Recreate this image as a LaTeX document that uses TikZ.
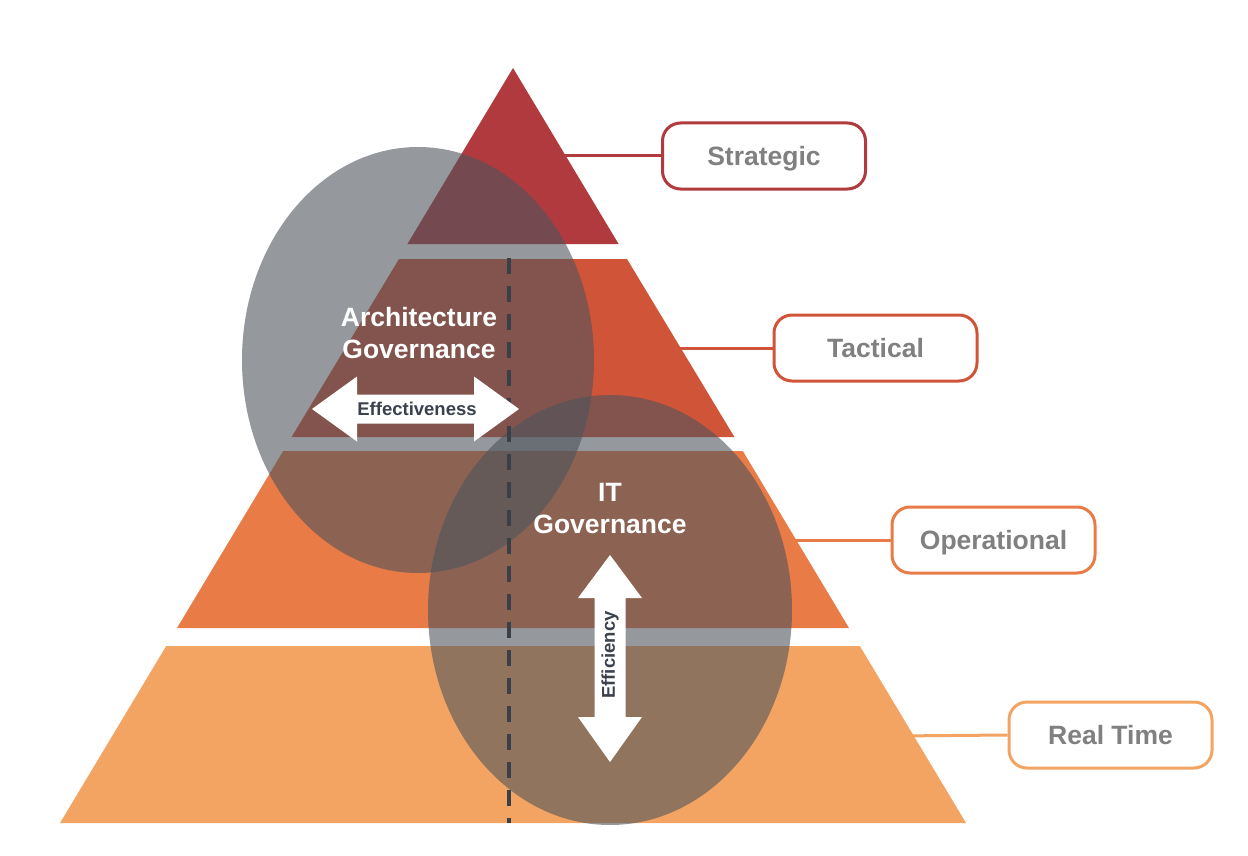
\documentclass[tikz,border=0pt]{standalone}
\usepackage{fontspec}
\setmainfont{Liberation Sans}
\definecolor{cStrat}{RGB}{176,58,62}
\definecolor{cTact}{RGB}{208,84,56}
\definecolor{cOper}{RGB}{233,123,71}
\definecolor{cReal}{RGB}{243,164,98}
\definecolor{cEll}{RGB}{78,84,92}
\definecolor{cLabel}{RGB}{128,128,128}
\definecolor{cDark}{RGB}{58,66,78}
\definecolor{cDash}{RGB}{58,64,72}
\tikzset{
  lbox/.style={draw=#1, line width=3pt, rounded corners=18pt, fill=white,
    minimum width=203pt, minimum height=66pt, text=cLabel,
    text height=19pt, text depth=0pt,
    font=\bfseries\fontsize{26.5}{30}\selectfont},
  lline/.style={draw=#1, line width=3pt},
  govell/.style={fill=cEll, fill opacity=0.6},
  govtext/.style={text=white, font=\bfseries\fontsize{26.5}{32}\selectfont, align=center},
  arrfill/.style={fill=white, draw=none},
  arrtext/.style={text=cDark, font=\bfseries\fontsize{18.5}{20}\selectfont}
}
\begin{document}
\begin{tikzpicture}[x=1pt,y=-1pt]
\useasboundingbox (0,0) rectangle (1248,856);
% connector lines (behind pyramid)
\coordinate (s0) at (540,156);
\coordinate (t0) at (660,348);
\coordinate (o0) at (780,540);
\coordinate (r0) at (895,736);
\node[lbox=cStrat] (strat) at (764,156) {Strategic};
\node[lbox=cTact] (tact) at (875.5,348) {Tactical};
\node[lbox=cOper] (oper) at (993.5,540) {Operational};
\node[lbox=cReal] (real) at (1110.5,735) {Real Time};
\draw[lline=cStrat] (s0) -- (strat.west);
\draw[lline=cTact] (t0) -- (tact.west);
\draw[lline=cOper] (o0) -- (oper.west);
\draw[lline=cReal] (r0) -- (real.west);
% pyramid layers
\fill[cStrat] (513,68) -- (618.6,244) -- (407.4,244) -- cycle;
\fill[cTact] (399,259) -- (627,259) -- (734.4,437) -- (291.6,437) -- cycle;
\fill[cOper] (283.2,451) -- (742.8,451) -- (849,628) -- (177,628) -- cycle;
\fill[cReal] (166.2,646) -- (859.8,646) -- (966,823) -- (60,823) -- cycle;
% ellipses
\fill[govell] (418,360) ellipse [x radius=176, y radius=213];
\fill[govell] (610,610) ellipse [x radius=182, y radius=215];
% dashed line
\draw[cDash, line width=4pt, dash pattern=on 16pt off 12pt] (509,258) -- (509,823);
% texts
\node[govtext] (archg) at (419,333) {Architecture\\Governance};
\node[govtext] (itg) at (610,509) {IT\\Governance};
% horizontal double arrow
\fill[arrfill] (312,409) -- (357,376.5) -- (357,394.5) -- (474,394.5) -- (474,376.5)
  -- (519,409) -- (474,441.5) -- (474,423.5) -- (357,423.5) -- (357,441.5) -- cycle;
\node[arrtext] (eff) at (417,409) {Effectiveness};
% vertical double arrow
\fill[arrfill] (610,555) -- (642,598) -- (625.5,598) -- (625.5,717) -- (642,717)
  -- (610,762) -- (578,717) -- (594.5,717) -- (594.5,598) -- (578,598) -- cycle;
\node[arrtext, rotate=90] (efc) at (610,655) {Efficiency};
\end{tikzpicture}
\end{document}
